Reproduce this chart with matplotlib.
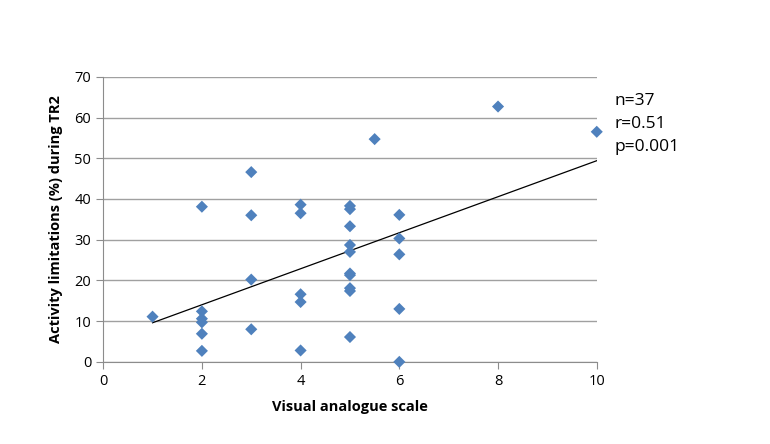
import matplotlib
matplotlib.use('Agg')
import matplotlib.pyplot as plt

# visual analogue scale vs activity limitations
vas = [1, 2, 2, 2, 2, 2, 2, 3, 3, 3, 3, 4, 4, 4, 4, 4,
       5, 5, 5, 5, 5, 5, 5, 5, 5, 5, 5.5, 6, 6, 6, 6, 6, 8, 10]
activity = [11.1, 38.1, 12.4, 10.6, 9.7, 6.9, 2.7, 46.6, 36.0, 20.2, 8.0,
            38.6, 36.5, 16.6, 14.7, 2.8,
            38.3, 37.5, 33.3, 28.7, 27.0, 21.7, 21.3, 18.1, 17.4, 6.1,
            54.7, 36.1, 30.3, 26.4, 13.0, 0.0, 62.7, 56.5]

trend_x = [1, 10]
trend_y = [9.6, 49.4]

stats = ['n=37', 'r=0.51', 'p=0.001']

plt.rcParams['font.family'] = ['Open Sans', 'DejaVu Sans']

fig = plt.figure(figsize=(7.7, 4.44), dpi=100)
ax = fig.add_axes([0.134, 0.185, 0.641, 0.642])

ax.plot(trend_x, trend_y, color='black', lw=0.9, zorder=2)
ax.scatter(vas, activity, marker='D', s=38, color='#4F81BD', edgecolors='none',
           zorder=3, clip_on=False)

ax.set_xlim(0, 10)
ax.set_ylim(0, 70)
ax.set_xticks(range(0, 11, 2))
ax.set_yticks(range(0, 71, 10))
ax.yaxis.grid(True, color='#a0a0a0', lw=1)
ax.set_axisbelow(True)
for s in ['top', 'right']:
    ax.spines[s].set_visible(False)
for s in ['left', 'bottom']:
    ax.spines[s].set_color('#8c8c8c')
ax.tick_params(axis='both', colors='#8c8c8c', labelcolor='black', labelsize=10.5, length=5)

ax.set_xlabel('Visual analogue scale', fontsize=10.5, fontweight='bold', labelpad=8)
ax.set_ylabel('Activity limitations (%) during TR2', fontsize=10.5, fontweight='bold', labelpad=8)

for i, t in enumerate(stats):
    fig.text(0.798, 1 - (101 + 23 * i) / 444, t, fontsize=12.5, va='center', ha='left')

fig.savefig('out.png', dpi=100)
